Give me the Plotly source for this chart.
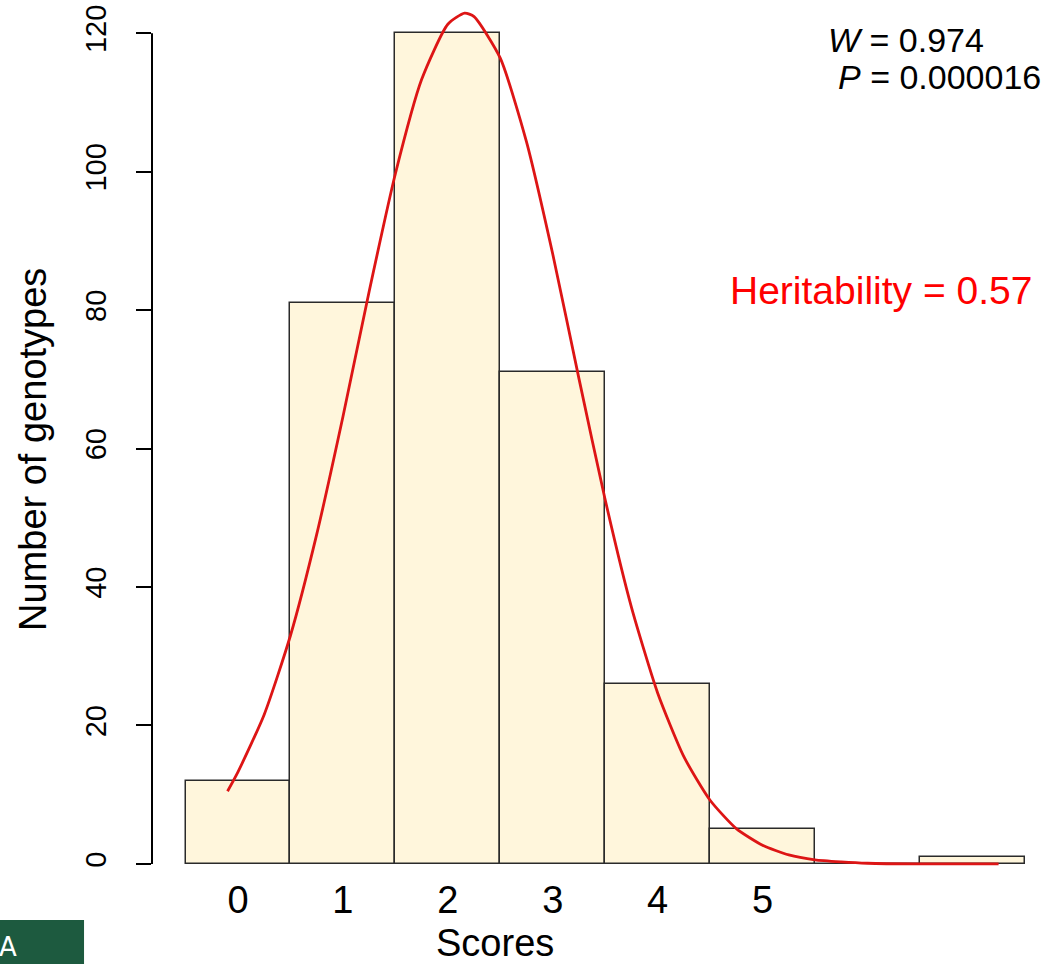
import plotly.graph_objects as go

# ---- data ----
score_bins = [0, 1, 2, 3, 4, 5, 6, 7]
genotype_counts = [12, 81, 120, 71, 26, 5, 0, 1]
x_tick_vals = [0, 1, 2, 3, 4, 5]
x_tick_text = ["0", "1", "2", "3", "4", "5"]
y_tick_vals = [0, 20, 40, 60, 80, 100, 120]

curve_x = [-0.1, 0.0, 0.25, 0.5, 0.75, 1.0, 1.25, 1.5, 1.75, 2.0, 2.16, 2.25, 2.5,
           2.75, 3.0, 3.25, 3.5, 3.75, 4.0, 4.25, 4.5, 4.75, 5.0, 5.25, 5.5, 5.75,
           6.0, 6.5, 7.25]
curve_y = [10.5, 13.3, 21.6, 33.0, 47.6, 64.6, 82.7, 99.7, 113.3, 121.3, 122.9, 122.4,
           116.4, 104.3, 88.1, 70.1, 52.6, 37.1, 24.7, 15.5, 9.2, 5.1, 2.7, 1.3, 0.6,
           0.3, 0.1, 0.0, 0.0]

FONT = "Liberation Sans, Arial, sans-serif"

fig = go.Figure()
fig.add_trace(go.Bar(
    x=score_bins, y=genotype_counts, width=1,
    marker=dict(color="#FFF6DC", line=dict(color="#2a2a2a", width=1.5)),
    showlegend=False, hoverinfo="skip",
))
fig.add_trace(go.Scatter(
    x=curve_x, y=curve_y, mode="lines",
    line=dict(color="#dd1515", width=2.8, shape="spline", smoothing=0.6),
    showlegend=False, cliponaxis=False,
))

fig.update_layout(
    width=1044, height=964,
    margin=dict(l=152, r=0, t=0, b=98),
    paper_bgcolor="white", plot_bgcolor="white",
    bargap=0,
    font=dict(family=FONT, color="black"),
    xaxis=dict(range=[-0.82, 7.683], showgrid=False, zeroline=False, showline=False,
               tickvals=x_tick_vals, ticktext=x_tick_text, ticks="",
               tickfont=dict(size=38, family=FONT), ticklabelstandoff=8),
    yaxis=dict(range=[-0.3, 124.8], showgrid=False, zeroline=False, showline=False,
               tickvals=y_tick_vals, ticks="outside", ticklen=15, tickwidth=2,
               tickcolor="black", tickangle=-90,
               tickfont=dict(size=29, family=FONT), ticklabelstandoff=18),
    shapes=[
        dict(type="line", xref="paper", yref="y", x0=0, x1=0, y0=0, y1=120,
             line=dict(color="black", width=2)),
        dict(type="rect", xref="paper", yref="paper", x0=-0.1704, x1=-0.0762,
             y0=-0.1132, y1=-0.0624, fillcolor="#1d5a3f", line=dict(width=0)),
    ],
    annotations=[
        dict(text="<i>W</i> = 0.974", xref="paper", yref="paper", x=0.7556, y=0.9538,
             xanchor="left", yanchor="middle", showarrow=False,
             font=dict(size=34, family=FONT, color="black")),
        dict(text="<i>P</i> = 0.000016", xref="paper", yref="paper", x=0.7668, y=0.9111,
             xanchor="left", yanchor="middle", showarrow=False,
             font=dict(size=34, family=FONT, color="black")),
        dict(text="Heritability = 0.57", xref="paper", yref="paper", x=0.8173, y=0.665,
             xanchor="center", yanchor="middle", showarrow=False,
             font=dict(size=39, family=FONT, color="#ff0000")),
        dict(text="Number of genotypes", xref="paper", yref="paper", x=-0.1334, y=0.4804,
             xanchor="center", yanchor="middle", textangle=-90, showarrow=False,
             font=dict(size=38, family=FONT, color="black")),
        dict(text="Scores", xref="paper", yref="paper", x=0.3845, y=-0.0889,
             xanchor="center", yanchor="middle", showarrow=False,
             font=dict(size=38, family=FONT, color="black")),
        dict(text="A", xref="paper", yref="paper", x=-0.1704, y=-0.1132, xshift=-3,
             xanchor="left", yanchor="bottom", showarrow=False,
             font=dict(size=26, family="DejaVu Sans ExtraLight, DejaVu Sans", color="white")),
    ],
)

fig.write_html("out.html")
